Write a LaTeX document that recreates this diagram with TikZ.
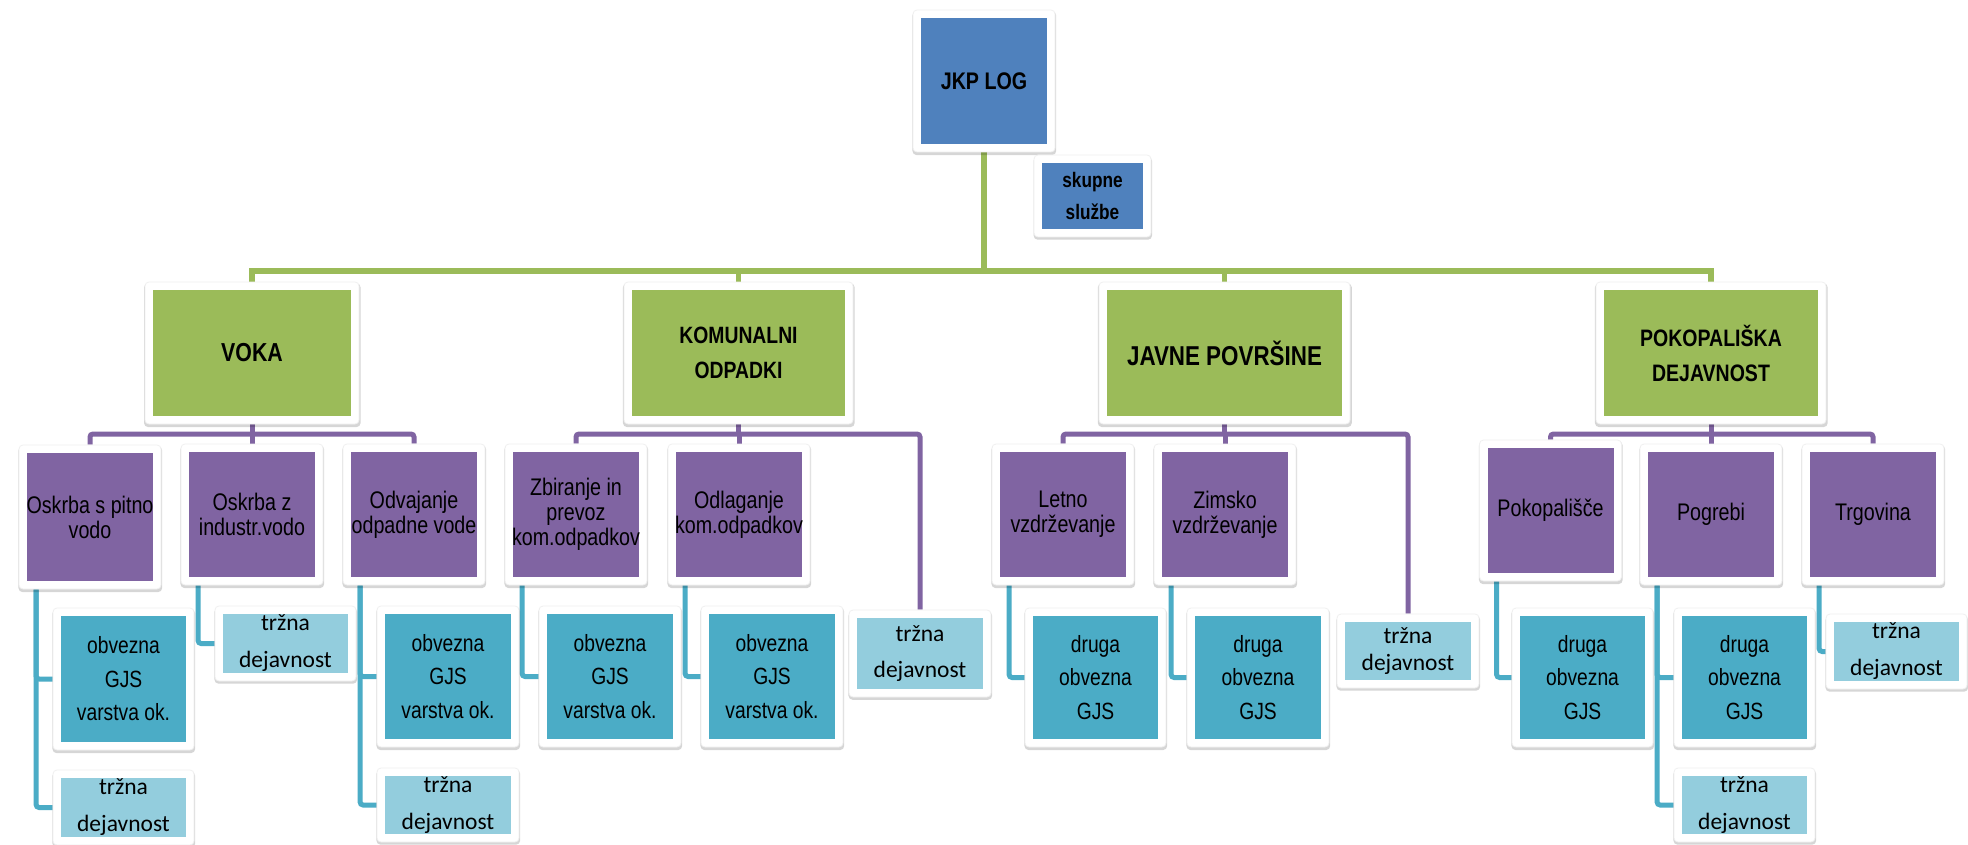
\documentclass[tikz,border=0pt]{standalone}
\usepackage{fontspec}
\setmainfont{Liberation Sans}
\newfontfamily\narrowf[FakeStretch=0.82]{Liberation Sans}
\newfontfamily\calf{Carlito}
\usetikzlibrary{shadows,backgrounds}
\definecolor{cblue}{HTML}{4F81BD}
\definecolor{cgreen}{HTML}{9BBB59}
\definecolor{cpurple}{HTML}{8064A2}
\definecolor{cteal}{HTML}{4BACC6}
\definecolor{clight}{HTML}{93CDDD}
\begin{document}
\begin{tikzpicture}[x=1pt,y=-1pt,
  frame/.style={rectangle, fill=white, draw=black!6, line width=0.8pt, rounded corners=4pt, inner sep=0pt,
    drop shadow={shadow xshift=0.3pt, shadow yshift=-2.2pt, shadow scale=1.012, opacity=0.16, fill=black},
    path picture={\fill[#1, sharp corners] ([shift={(8pt,8pt)}]path picture bounding box.south west) rectangle ([shift={(-8pt,-8pt)}]path picture bounding box.north east);}},
  lvone/.style={frame=cgreen, minimum height=142pt, align=center},
  lvtwo/.style={frame=cpurple, minimum width=142pt, minimum height=141pt, align=center, font=\narrowf\fontsize{24}{25}\selectfont},
  obl/.style={frame=cteal, minimum width=142pt, minimum height=141pt, align=center, font=\narrowf\fontsize{23.5}{33.5}\selectfont},
  trz/.style={frame=clight, minimum width=142pt, minimum height=75pt, align=center, font=\calf\fontsize{23.5}{37}\selectfont},
  gline/.style={draw=cgreen, line width=5.5pt},
  pline/.style={draw=cpurple, line width=5pt, rounded corners=3pt},
  tline/.style={draw=cteal, line width=5pt, rounded corners=3pt}]
\useasboundingbox (0,0) rectangle (1968,845);

% root
\node[frame=cblue, minimum width=142pt, minimum height=142pt, font=\narrowf\bfseries\fontsize{24}{30}\selectfont] (jkp) at (984,81) {JKP LOG};
\node[frame=cblue, minimum width=117pt, minimum height=82pt, align=center, font=\narrowf\bfseries\fontsize{21}{32}\selectfont] (sk) at (1092.5,196) {skupne\\službe};

% level 1
\node[lvone, minimum width=214pt, font=\narrowf\bfseries\fontsize{26}{30}\selectfont] (voka) at (252,353) {VOKA};
\node[lvone, minimum width=229pt, font=\narrowf\bfseries\fontsize{23.6}{35}\selectfont] (kom) at (738.5,353) {KOMUNALNI\\ODPADKI};
\node[lvone, minimum width=251pt, font=\narrowf\bfseries\fontsize{27.3}{30}\selectfont] (jav) at (1224.5,353) {JAVNE POVRŠINE};
\node[lvone, minimum width=230pt, font=\narrowf\bfseries\fontsize{23.8}{35}\selectfont] (pok) at (1711,353) {POKOPALIŠKA\\DEJAVNOST};

% level 2
\node[lvtwo, minimum height=144pt] (p1) at (90,517) {Oskrba s pitno\\vodo};
\node[lvtwo] (p2) at (252,514.5) {Oskrba z\\industr.vodo};
\node[lvtwo] (p3) at (414,514.5) {Odvajanje\\odpadne vode};
\node[lvtwo] (p4) at (576,514.5) {Zbiranje in\\prevoz\\kom.odpadkov};
\node[lvtwo] (p5) at (739,514.5) {Odlaganje\\kom.odpadkov};
\node[lvtwo] (p6) at (1063,514.5) {Letno\\vzdrževanje};
\node[lvtwo] (p7) at (1225,514.5) {Zimsko\\vzdrževanje};
\node[lvtwo] (p8) at (1550.5,510.5) {Pokopališče};
\node[lvtwo] (p9) at (1711,514.5) {Pogrebi};
\node[lvtwo] (p10) at (1873,514.5) {Trgovina};

% level 3
\node[obl, minimum width=141pt, minimum height=142pt] (t1) at (123.5,679) {obvezna\\GJS\\varstva ok.};
\node[trz, minimum width=141pt] (t2) at (123.5,807.5) {tržna\\dejavnost};
\node[trz, minimum width=141pt] (t3) at (285.5,643.5) {tržna\\dejavnost};
\node[obl] (t4) at (448,676.5) {obvezna\\GJS\\varstva ok.};
\node[trz, minimum height=74pt] (t5) at (448,805) {tržna\\dejavnost};
\node[obl] (t6) at (610,676.5) {obvezna\\GJS\\varstva ok.};
\node[obl] (t7) at (772,676.5) {obvezna\\GJS\\varstva ok.};
\node[trz, minimum height=87pt, font=\calf\fontsize{23.5}{36}\selectfont] (t8) at (920,653.5) {tržna\\dejavnost};
\node[obl, minimum width=141pt, minimum height=139pt] (t9) at (1095.5,677.5) {druga\\obvezna\\GJS};
\node[obl, minimum height=139pt] (t10) at (1258,677.5) {druga\\obvezna\\GJS};
\node[trz, minimum height=74pt, font=\calf\fontsize{23.5}{27}\selectfont] (t11) at (1408,651) {tržna\\dejavnost};
\node[obl, minimum width=141pt, minimum height=139pt] (t12) at (1582.5,677.5) {druga\\obvezna\\GJS};
\node[obl, minimum width=141pt, minimum height=139pt] (t13) at (1744.5,677.5) {druga\\obvezna\\GJS};
\node[trz, minimum width=141pt, minimum height=74pt] (t14) at (1744.5,805) {tržna\\dejavnost};
\node[trz, minimum width=141pt] (t15) at (1896.5,651.5) {tržna\\dejavnost};

\begin{scope}[on background layer]
\fill[white] (0,0) rectangle (1968,845);
% green tree
\coordinate (gb) at (984,271);
\draw[gline] (jkp.south) -- (gb);
\draw[gline] (voka.north) |- (gb) -| (pok.north);
\draw[gline] (kom.north) -- (kom.north |- gb);
\draw[gline] (jav.north) -- (jav.north |- gb);
% purple buses
\coordinate (vb) at (252,434);
\coordinate (kb) at (738.5,434);
\coordinate (jb) at (1224.5,434);
\coordinate (pb) at (1711,434);
\draw[pline] (voka.south) -- (vb);
\draw[pline] (p1.north) |- (vb) -| (p3.north);
\draw[pline] (p2.north) -- (p2.north |- vb);
\draw[pline] (kom.south) -- (kb);
\draw[pline] (p4.north) |- (kb) -| (t8.north);
\draw[pline] (p5.north) -- (p5.north |- kb);
\draw[pline] (jav.south) -- (jb);
\draw[pline] (p6.north) |- (jb) -| (t11.north);
\draw[pline] (p7.north) -- (p7.north |- jb);
\draw[pline] (pok.south) -- (pb);
\draw[pline] (p8.north) |- (pb) -| (p10.north);
\draw[pline] (p9.north) -- (p9.north |- pb);
% teal connectors
\draw[tline] ([xshift=17.5pt]p1.south west) |- (t1.west);
\draw[tline] ([xshift=17.5pt]p1.south west) |- (t2.west);
\draw[tline] ([xshift=17.5pt]p2.south west) |- (t3.west);
\draw[tline] ([xshift=17.5pt]p3.south west) |- (t4.west);
\draw[tline] ([xshift=17.5pt]p3.south west) |- (t5.west);
\draw[tline] ([xshift=17.5pt]p4.south west) |- (t6.west);
\draw[tline] ([xshift=17.5pt]p5.south west) |- (t7.west);
\draw[tline] ([xshift=17.5pt]p6.south west) |- (t9.west);
\draw[tline] ([xshift=17.5pt]p7.south west) |- (t10.west);
\draw[tline] ([xshift=17.5pt]p8.south west) |- (t12.west);
\draw[tline] ([xshift=17.5pt]p9.south west) |- (t13.west);
\draw[tline] ([xshift=17.5pt]p9.south west) |- (t14.west);
\draw[tline] ([xshift=17.5pt]p10.south west) |- (t15.west);
\end{scope}
\end{tikzpicture}
\end{document}
